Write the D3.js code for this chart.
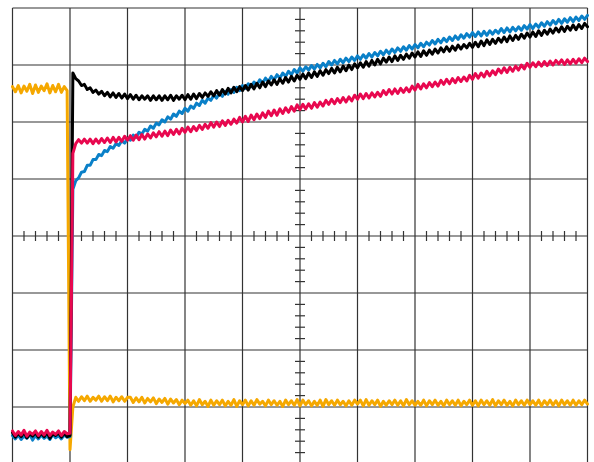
<!DOCTYPE html>
<html>
<head>
<meta charset="utf-8">
<script src="https://cdn.jsdelivr.net/npm/d3@7"></script>
<style>
html,body{margin:0;padding:0;background:#fff;overflow:hidden;}
svg{display:block;}
</style>
</head>
<body>
<svg id="chart" width="594" height="462"></svg>
<script>
// sample times in horizontal divisions
const time = [
0,0.05,0.1,0.15,0.2,0.25,0.3,0.35,0.4,0.45,0.5,0.55,0.6,0.65,0.7,0.75,0.8,0.85,0.9,0.95,
1,1.05,1.1,1.15,1.2,1.25,1.3,1.35,1.4,1.45,1.5,1.55,1.6,1.65,1.7,1.75,1.8,1.85,1.9,1.95,
2,2.05,2.1,2.15,2.2,2.25,2.3,2.35,2.4,2.45,2.5,2.55,2.6,2.65,2.7,2.75,2.8,2.85,2.9,2.95,
3,3.05,3.1,3.15,3.2,3.25,3.3,3.35,3.4,3.45,3.5,3.55,3.6,3.65,3.7,3.75,3.8,3.85,3.9,3.95,
4,4.05,4.1,4.15,4.2,4.25,4.3,4.35,4.4,4.45,4.5,4.55,4.6,4.65,4.7,4.75,4.8,4.85,4.9,4.95,
5,5.05,5.1,5.15,5.2,5.25,5.3,5.35,5.4,5.45,5.5,5.55,5.6,5.65,5.7,5.75,5.8,5.85,5.9,5.95,
6,6.05,6.1,6.15,6.2,6.25,6.3,6.35,6.4,6.45,6.5,6.55,6.6,6.65,6.7,6.75,6.8,6.85,6.9,6.95,
7,7.05,7.1,7.15,7.2,7.25,7.3,7.35,7.4,7.45,7.5,7.55,7.6,7.65,7.7,7.75,7.8,7.85,7.9,7.95,
8,8.05,8.1,8.15,8.2,8.25,8.3,8.35,8.4,8.45,8.5,8.55,8.6,8.65,8.7,8.75,8.8,8.85,8.9,8.95,
9,9.05,9.1,9.15,9.2,9.25,9.3,9.35,9.4,9.45,9.5,9.55,9.6,9.65,9.7,9.75,9.8,9.85,9.9,9.95,
10];

// trace values in vertical divisions
const yellowTrace = [
2.62,2.53,2.64,2.51,2.63,2.54,2.66,2.50,2.65,2.52,2.63,2.55,2.67,2.51,2.64,2.53,2.66,2.52,2.62,2.55,
-3.75,-3.00,
-2.83,-2.90,-2.82,-2.89,-2.81,-2.90,-2.83,-2.88,-2.81,-2.90,-2.82,-2.89,-2.81,-2.91,-2.83,-2.89,-2.82,-2.90,-2.83,
-2.83,-2.92,-2.84,-2.91,-2.83,-2.93,-2.85,-2.91,-2.84,-2.94,-2.86,-2.92,-2.85,-2.95,-2.86,-2.93,-2.87,-2.96,-2.88,-2.94,
-2.88,-2.97,-2.89,-2.98,-2.87,-2.96,-2.90,-2.99,-2.88,-2.97,
-2.89,-2.96,-2.88,-2.98,-2.90,-2.97,-2.87,-2.99,-2.89,-2.96,
-2.88,-2.98,-2.89,-2.97,-2.87,-2.95,-2.90,-2.98,-2.88,-2.96,
-2.89,-2.97,-2.90,-2.99,-2.88,-2.96,-2.89,-2.97,-2.87,-2.98,
-2.88,-2.96,-2.89,-2.98,-2.90,-2.97,-2.88,-2.99,-2.87,-2.96,
-2.89,-2.97,-2.88,-2.96,-2.90,-2.98,-2.89,-2.97,-2.88,-2.95,
-2.88,-2.98,-2.87,-2.97,-2.89,-2.96,-2.88,-2.99,-2.90,-2.97,
-2.89,-2.96,-2.88,-2.97,-2.89,-2.98,-2.87,-2.96,-2.89,-2.97,
-2.90,-2.97,-2.88,-2.98,-2.89,-2.96,-2.88,-2.97,-2.90,-2.98,
-2.88,-2.96,-2.89,-2.97,-2.88,-2.98,-2.90,-2.96,-2.88,-2.97,
-2.89,-2.98,-2.88,-2.96,-2.89,-2.97,-2.87,-2.98,-2.89,-2.96,
-2.88,-2.97,-2.90,-2.98,-2.88,-2.96,-2.89,-2.97,-2.88,-2.96,
-2.89,-2.97,-2.88,-2.98,-2.89,-2.96,-2.88,-2.97,-2.89,-2.98,
-2.88,-2.96,-2.89,-2.97,-2.88,-2.97,-2.89,-2.96,-2.88,-2.95];

const blueTrace = [
-3.50,-3.56,-3.49,-3.57,-3.51,-3.55,-3.48,-3.58,-3.50,-3.56,-3.49,-3.55,-3.51,-3.57,-3.48,-3.54,-3.50,-3.56,-3.49,-3.53,
-3.52,
0.82,0.97,1.02,1.12,1.13,1.24,1.24,1.34,1.34,1.43,1.41,1.50,1.48,1.57,1.54,1.62,1.59,1.67,1.63,1.71,
1.68,1.77,1.73,1.82,1.79,1.87,1.84,1.93,1.89,1.98,
1.95,2.04,2.00,2.09,2.05,2.14,2.10,2.19,2.15,2.24,
2.19,2.28,2.24,2.33,2.29,2.38,2.33,2.42,2.38,2.47,
2.42,2.51,2.45,2.54,2.49,2.57,2.52,2.61,2.55,2.64,
2.59,2.67,2.62,2.70,2.65,2.74,2.68,2.77,2.71,2.80,
2.74,2.83,2.77,2.86,2.80,2.89,2.83,2.92,2.86,2.95,
2.89,2.97,2.91,2.99,2.93,3.01,2.95,3.03,2.97,3.06,
3.00,3.08,3.02,3.10,3.04,3.12,3.06,3.14,3.08,3.16,
3.10,3.18,3.12,3.20,3.14,3.22,3.16,3.24,3.18,3.26,
3.20,3.28,3.22,3.30,3.24,3.32,3.26,3.34,3.28,3.36,
3.30,3.38,3.32,3.40,3.35,3.43,3.37,3.45,3.39,3.47,
3.41,3.49,3.43,3.51,3.45,3.53,3.47,3.55,3.49,3.57,
3.50,3.58,3.51,3.59,3.52,3.60,3.54,3.61,3.56,3.64,
3.57,3.65,3.58,3.66,3.60,3.67,3.61,3.69,3.63,3.71,
3.64,3.72,3.66,3.74,3.68,3.76,3.70,3.78,3.72,3.80,
3.73,3.81,3.75,3.83,3.76,3.84,3.78,3.86,3.80,3.87];

const blackTrace = [
-3.45,-3.53,-3.46,-3.52,-3.44,-3.54,-3.47,-3.51,-3.45,-3.53,-3.46,-3.52,-3.44,-3.55,-3.47,-3.50,-3.45,-3.53,-3.46,-3.52,
-3.50,
2.86,2.76,2.72,2.64,2.66,2.57,2.60,2.52,2.56,2.49,2.54,2.46,2.52,2.44,2.51,2.43,2.50,2.42,2.49,2.41,
2.48,2.40,2.47,2.39,2.46,2.40,2.46,2.38,2.46,2.39,
2.46,2.38,2.46,2.39,2.47,2.38,2.46,2.40,2.47,2.39,
2.48,2.40,2.49,2.41,2.50,2.43,2.51,2.45,2.53,2.46,
2.55,2.47,2.57,2.49,2.59,2.51,2.61,2.53,2.62,2.55,
2.64,2.56,2.66,2.58,2.68,2.60,2.70,2.62,2.72,2.65,
2.74,2.66,2.76,2.68,2.78,2.70,2.80,2.72,2.82,2.75,
2.84,2.76,2.86,2.78,2.88,2.80,2.90,2.82,2.92,2.85,
2.94,2.86,2.96,2.88,2.98,2.90,3.00,2.92,3.02,2.95,
3.04,2.96,3.06,2.98,3.08,3.00,3.10,3.02,3.12,3.05,
3.14,3.06,3.16,3.08,3.17,3.10,3.19,3.12,3.21,3.14,
3.23,3.15,3.25,3.17,3.26,3.19,3.28,3.21,3.30,3.23,
3.32,3.24,3.33,3.26,3.35,3.28,3.36,3.30,3.38,3.31,
3.40,3.32,3.42,3.34,3.44,3.36,3.45,3.38,3.47,3.40,
3.49,3.41,3.51,3.43,3.52,3.45,3.54,3.47,3.56,3.49,
3.58,3.50,3.60,3.52,3.61,3.54,3.63,3.56,3.65,3.58,
3.67,3.59,3.68,3.61,3.70,3.62,3.71,3.64,3.73,3.67];

const pinkTrace = [
-3.42,-3.50,-3.43,-3.49,-3.41,-3.51,-3.44,-3.48,-3.42,-3.50,-3.43,-3.49,-3.41,-3.50,-3.44,-3.48,-3.42,-3.50,-3.43,-3.47,
-3.46,
1.45,1.62,1.69,1.63,1.70,1.63,1.70,1.62,1.70,1.63,
1.71,1.64,1.72,1.64,1.73,1.65,1.73,1.66,1.75,1.68,
1.76,1.68,1.77,1.69,1.78,1.70,1.79,1.72,1.81,1.74,
1.83,1.75,1.84,1.76,1.86,1.78,1.87,1.79,1.89,1.82,
1.91,1.83,1.92,1.85,1.94,1.87,1.96,1.89,1.99,1.91,
2.00,1.92,2.02,1.94,2.03,1.96,2.05,1.98,2.08,2.00,
2.10,2.01,2.12,2.04,2.14,2.06,2.16,2.08,2.19,2.11,
2.21,2.12,2.23,2.15,2.25,2.17,2.27,2.19,2.30,2.22,
2.31,2.23,2.32,2.24,2.34,2.26,2.35,2.28,2.38,2.31,
2.40,2.32,2.41,2.34,2.43,2.35,2.44,2.37,2.47,2.40,
2.49,2.41,2.50,2.42,2.51,2.44,2.52,2.45,2.55,2.48,
2.57,2.49,2.58,2.50,2.59,2.52,2.60,2.53,2.63,2.56,
2.66,2.58,2.67,2.60,2.69,2.62,2.70,2.63,2.73,2.66,
2.75,2.67,2.76,2.69,2.78,2.71,2.79,2.72,2.82,2.75,
2.85,2.77,2.86,2.79,2.89,2.81,2.90,2.83,2.93,2.86,
2.95,2.87,2.96,2.89,2.98,2.91,3.00,2.93,3.03,2.96,
3.04,2.97,3.05,2.98,3.06,2.99,3.07,3.00,3.08,3.02,
3.09,3.01,3.09,3.02,3.10,3.03,3.11,3.04,3.12,3.06];

// graticule
const xDivisions = [0,1,2,3,4,5,6,7,8,9,10];
const yDivisions = [-4,-3,-2,-1,0,1,2,3,4];
const minorStep = 0.2;

const traces = [
  {name: "yellow", values: yellowTrace, color: "#f5a800"},
  {name: "blue",   values: blueTrace,   color: "#0a80c8"},
  {name: "black",  values: blackTrace,  color: "#000000"},
  {name: "pink",   values: pinkTrace,   color: "#e8084f"}
];

const svg = d3.select("#chart");
const x = d3.scaleLinear().domain([0, 10]).range([12.5, 587.5]);
const y = d3.scaleLinear().domain([-4, 4]).range([464, 8]);

const grid = svg.append("g").attr("stroke", "#333").attr("stroke-width", 1.2);
grid.selectAll("line.v").data(xDivisions).join("line").attr("class","v")
  .attr("x1", d => x(d)).attr("x2", d => x(d)).attr("y1", y(4)).attr("y2", y(-4));
grid.selectAll("line.h").data(yDivisions).join("line").attr("class","h")
  .attr("y1", d => y(d)).attr("y2", d => y(d)).attr("x1", x(0)).attr("x2", x(10));

// minor ticks along centre lines
const xMinor = d3.range(0, 10 + 1e-9, minorStep).filter(v => Math.abs(v - Math.round(v)) > 1e-6);
const yMinor = d3.range(-4, 4 + 1e-9, minorStep).filter(v => Math.abs(v - Math.round(v)) > 1e-6);
const tickLen = 5;
grid.selectAll("line.tx").data(xMinor).join("line").attr("class","tx")
  .attr("x1", d => x(d)).attr("x2", d => x(d)).attr("y1", y(0) - tickLen).attr("y2", y(0) + tickLen);
grid.selectAll("line.ty").data(yMinor).join("line").attr("class","ty")
  .attr("y1", d => y(d)).attr("y2", d => y(d)).attr("x1", x(5) - tickLen).attr("x2", x(5) + tickLen);

const line = d3.line().x((d, i) => x(time[i])).y(d => y(d));

svg.append("g").selectAll("path").data(traces).join("path")
  .attr("d", d => line(d.values))
  .attr("fill", "none")
  .attr("stroke", d => d.color)
  .attr("stroke-width", 3)
  .attr("stroke-linejoin", "round")
  .attr("stroke-linecap", "round");
</script>
</body>
</html>
